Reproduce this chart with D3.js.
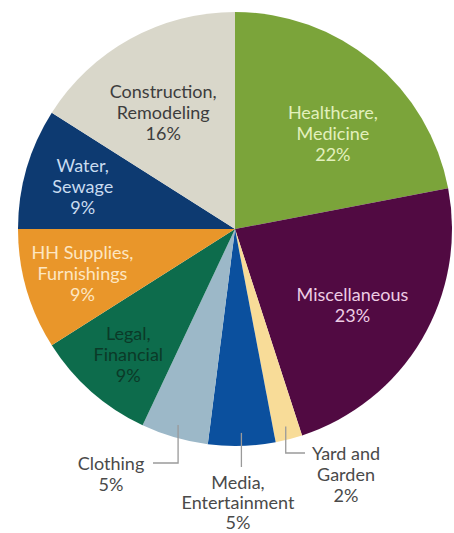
<!DOCTYPE html>
<html>
<head>
<meta charset="utf-8">
<script src="https://cdn.jsdelivr.net/npm/d3@7"></script>
<style>
  html, body { margin: 0; padding: 0; background: #ffffff; }
  svg { display: block; }
  text { font-family: Lato, "Open Sans", sans-serif; }
</style>
</head>
<body>
<svg id="chart" width="454" height="533"></svg>
<script>
// ---- data ----
const categories = ["Healthcare,\nMedicine", "Miscellaneous", "Yard and\nGarden", "Media,\nEntertainment",
                    "Clothing", "Legal,\nFinancial", "HH Supplies,\nFurnishings", "Water,\nSewage",
                    "Construction,\nRemodeling"];
const values = [22, 23, 2, 5, 5, 9, 9, 9, 16];

// ---- styling ----
const sliceColors = ["#7ba43a", "#510a42", "#f8dc98", "#0b509e", "#9cb8c8", "#0d6c4c", "#e9962a", "#0d3a71", "#d9d7ca"];
const labelColors = ["#e3f0bd", "#edcde4", "#4a4a4a", "#4a4a4a", "#4a4a4a", "#0b3a28", "#fde6c2", "#c9dcf0", "#3d3d3d"];
// label layout: inside labels by polar (deg from top, radius); outside labels with leader lines
const labelLayout = [
  {type: "in", ang: 45.6, rad: 137},
  {type: "in", ang: 123.0, rad: 140},
  {type: "out", x: 346, y0: 460, hy: 453, hx: 305},
  {type: "out", x: 238, y0: 489, vEnd: 467, lh: 20},
  {type: "out", x: 111, y0: 470, hy: 463, hx: 153},
  {type: "in", ang: 220.3, rad: 165},
  {type: "in", ang: 253.6, rad: 159},
  {type: "in", ang: 285.5, rad: 158},
  {type: "in", ang: 328.4, rad: 137}
];

const cx = 235, cy = 229, R = 217, lineH = 21;
const svg = d3.select("#chart");
const g = svg.append("g").attr("transform", `translate(${cx},${cy})`);

const pie = d3.pie().value(d => d).sort(null);
const arcs = pie(values);
const arc = d3.arc().innerRadius(0).outerRadius(R);
const leaderArc = d3.arc().innerRadius(R - 13).outerRadius(R - 13);

g.selectAll("path.slice")
  .data(arcs)
  .join("path")
  .attr("class", "slice")
  .attr("d", arc)
  .attr("fill", (d, i) => sliceColors[i]);

const fs = 18;

arcs.forEach((d, i) => {
  const L = labelLayout[i];
  const lh = L.lh || lineH;
  const lines = categories[i].split("\n").concat([values[i] + "%"]);
  let x, y0;
  if (L.type === "in") {
    const a = L.ang * Math.PI / 180;
    const mx = Math.sin(a) * L.rad, my = -Math.cos(a) * L.rad;
    x = mx;
    const n = lines.length;
    y0 = my - (n - 1) / 2 * lh + fs * 0.36;
  } else {
    x = L.x - cx;
    y0 = L.y0 - cy;
    const [sx, sy] = leaderArc.centroid(d);
    let pts;
    if (L.vEnd !== undefined) {
      pts = [[sx, sy], [sx, L.vEnd - cy]];
    } else {
      pts = [[sx, sy], [sx, L.hy - cy], [L.hx - cx, L.hy - cy]];
    }
    g.append("path")
      .attr("d", d3.line()(pts))
      .attr("fill", "none")
      .attr("stroke", "#9a9a9a")
      .attr("stroke-width", 1.3);
  }
  const t = g.append("text")
    .attr("text-anchor", "middle")
    .attr("fill", labelColors[i])
    .attr("font-size", fs);
  lines.forEach((ln, k) => {
    t.append("tspan").attr("x", x).attr("y", y0 + k * lh).text(ln);
  });
});
</script>
</body>
</html>
